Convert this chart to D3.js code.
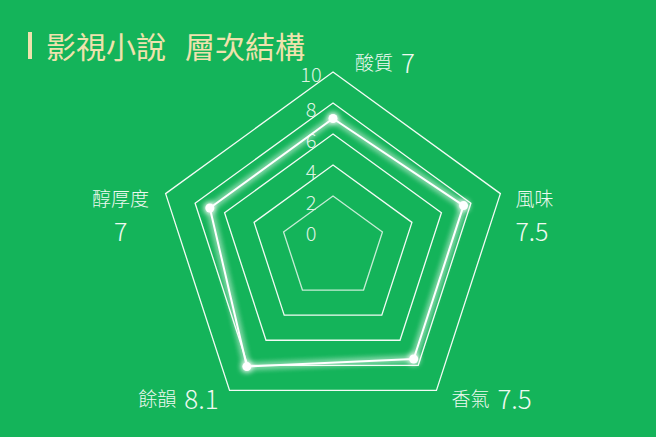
<!DOCTYPE html>
<html>
<head>
<meta charset="utf-8">
<script src="https://cdn.jsdelivr.net/npm/d3@7"></script>
<style>
  html, body { margin: 0; padding: 0; background: #14b45a; }
  svg { display: block; }
  text { font-family: "Noto Sans CJK TC", "Noto Sans", sans-serif; }
</style>
</head>
<body>
<svg id="chart"></svg>
<script>
// radar data
const categories = ['酸質', '風味', '香氣', '餘韻', '醇厚度'];
const values = [7, 7.5, 7.5, 8.1, 7];
const valueLabels = ['7', '7.5', '7.5', '8.1', '7'];
const ticks = [0, 2, 4, 6, 8, 10];
const title = ['影視小說', '層次結構'];

const width = 656, height = 437;
const cx = 333, cy = 248;

const svg = d3.select('#chart').attr('width', width).attr('height', height);

svg.append('rect').attr('width', width).attr('height', height).attr('fill', '#14b45a');

// glow filter for the data line
const defs = svg.append('defs');
const glow = defs.append('filter').attr('id', 'glow')
  .attr('x', '-20%').attr('y', '-20%').attr('width', '140%').attr('height', '140%');
glow.append('feGaussianBlur').attr('stdDeviation', 3).attr('result', 'b');
const merge = glow.append('feMerge');
merge.append('feMergeNode').attr('in', 'b');
merge.append('feMergeNode').attr('in', 'b');
merge.append('feMergeNode').attr('in', 'SourceGraphic');

const r = d3.scaleLinear().domain([0, 10]).range([21, 176]);
const angle = i => i * 2 * Math.PI / categories.length;
const pt = (i, rad) => [cx + rad * Math.sin(angle(i)), cy - rad * Math.cos(angle(i))];

// grid rings (skip 0)
const g = svg.append('g');
g.selectAll('path.ring')
  .data(ticks.filter(t => t > 0))
  .join('path')
  .attr('class', 'ring')
  .attr('d', t => d3.line()(categories.map((c, i) => pt(i, r(t)))) + 'Z')
  .attr('fill', 'none')
  .attr('stroke', '#f2fbf4')
  .attr('stroke-opacity', t => t === 2 ? 0.8 : 1)
  .attr('stroke-width', 1.3);

// tick labels
g.selectAll('text.tick')
  .data(ticks)
  .join('text')
  .attr('class', 'tick')
  .attr('x', cx - 22)
  .attr('y', t => cy - r(t) + (t === 10 ? 1 : 5))
  .attr('text-anchor', 'middle')
  .attr('dominant-baseline', 'central')
  .attr('font-size', 20)
  .attr('font-weight', 300)
  .attr('fill', '#dcf3e1')
  .text(t => t);

// data polygon
const dataPts = values.map((v, i) => pt(i, r(v)));
const dg = svg.append('g').attr('filter', 'url(#glow)');
dg.append('path')
  .attr('d', d3.line()(dataPts) + 'Z')
  .attr('fill', 'none')
  .attr('stroke', '#ffffff')
  .attr('stroke-width', 2)
  .attr('stroke-linejoin', 'round');
dg.selectAll('circle')
  .data(dataPts)
  .join('circle')
  .attr('cx', d => d[0])
  .attr('cy', d => d[1])
  .attr('r', 4.5)
  .attr('fill', '#ffffff');

// axis labels
const labelColor = '#eef9f0';
const outer = categories.map((c, i) => pt(i, r(10)));
const lab = svg.append('g').attr('fill', labelColor).attr('font-weight', 300);

function inline(i, x, y, anchor) {
  const t = lab.append('text').attr('x', x).attr('y', y)
    .attr('text-anchor', anchor).attr('dominant-baseline', 'central');
  t.append('tspan').attr('font-size', 19).text(categories[i]);
  t.append('tspan').attr('font-size', 26).attr('dx', 8).text(valueLabels[i]);
}
function stacked(i, x, y, anchor) {
  lab.append('text').attr('x', x).attr('y', y)
    .attr('text-anchor', anchor).attr('dominant-baseline', 'central')
    .attr('font-size', 19).text(categories[i]);
  lab.append('text').attr('x', x).attr('y', y + 32)
    .attr('text-anchor', anchor).attr('dominant-baseline', 'central')
    .attr('font-size', 25).text(valueLabels[i]);
}
inline(0, outer[0][0] + 22, outer[0][1] - 11, 'start');
stacked(1, outer[1][0] + 15, outer[1][1] + 4, 'start');
inline(2, outer[2][0] + 15, outer[2][1] + 7, 'start');
inline(3, outer[3][0] - 11, outer[3][1] + 7, 'end');
stacked(4, outer[4][0] - 45, outer[4][1] + 4, 'middle');

// title
svg.append('rect').attr('x', 28).attr('y', 32).attr('width', 4).attr('height', 27).attr('fill', '#efe2ad');
const tt = svg.append('text').attr('x', 46).attr('y', 45)
  .attr('dominant-baseline', 'central')
  .attr('font-size', 30)
  .attr('fill', '#efe2ad');
tt.append('tspan').text(title[0]);
tt.append('tspan').attr('dx', 19).text(title[1]);
</script>
</body>
</html>
